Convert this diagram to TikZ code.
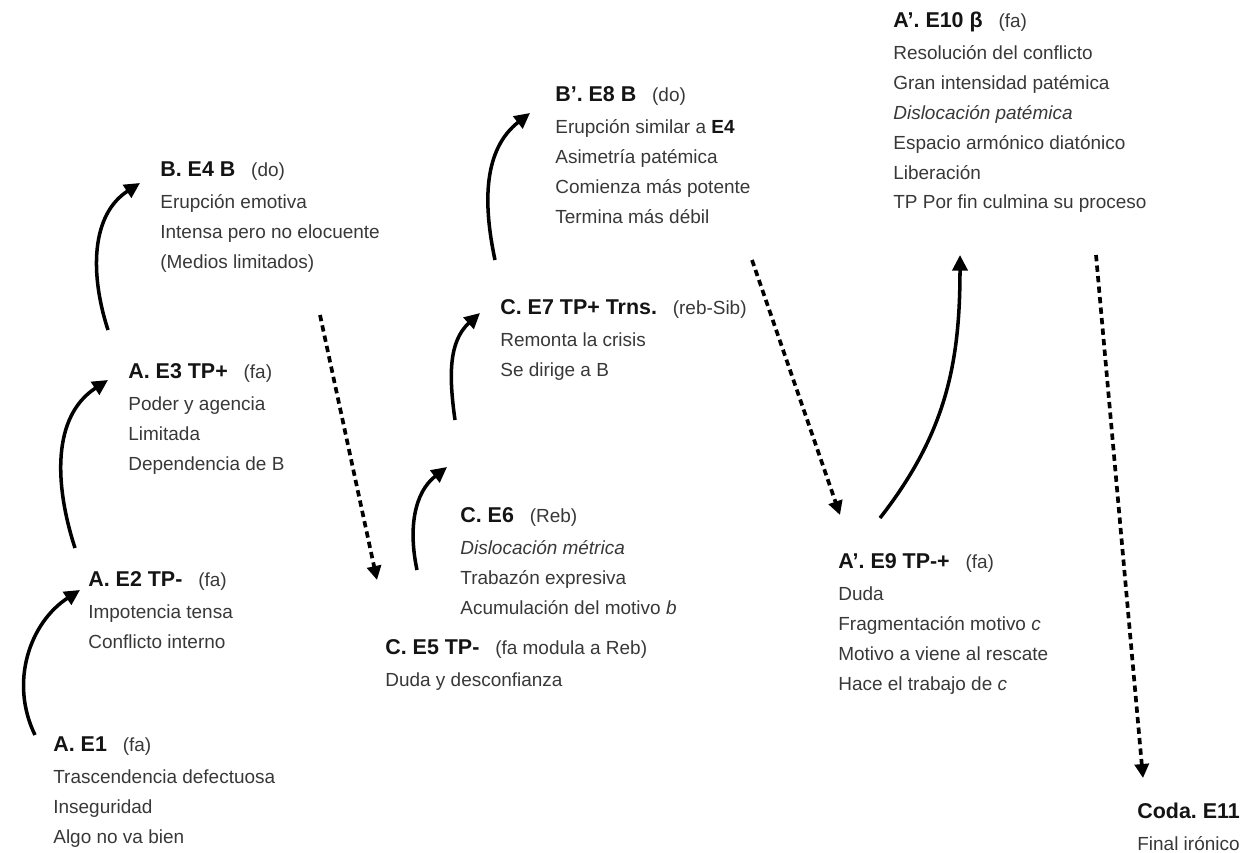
\documentclass[tikz,border=0pt]{standalone}
\usepackage{fontspec}
\setmainfont{Liberation Sans}
\usepackage{xcolor}
\usetikzlibrary{arrows.meta}
\definecolor{bodygray}{HTML}{383838}
\definecolor{titleblack}{HTML}{141414}
\newcommand{\titlefont}{\color{titleblack}\fontsize{12.2}{17}\selectfont\bfseries}
\newcommand{\stitle}[2]{\rule{0pt}{10pt}{\titlefont #1}\hspace{9pt}#2}

\tikzset{
  stage/.style={anchor=north west,inner sep=0pt,align=left,text=bodygray,font=\fontsize{10.8}{17}\selectfont},
  rise/.style={-{Triangle[length=3.1mm,width=3mm]},line width=2pt,black},
  fall/.style={-{Triangle[length=2.8mm,width=2.8mm]},line width=2.1pt,black,dash pattern=on 3.6pt off 2.4pt},
}

\begin{document}
\begin{tikzpicture}[x=0.02cm,y=0.02cm]
\useasboundingbox (0,0) rectangle (1250,-852);

\node[stage] (e1) at (53,-734) {\stitle{A. E1}{(fa)}\\[1pt]
  Trascendencia defectuosa\\ Inseguridad\\ Algo no va bien};
\node[stage] (e2) at (88,-569) {\stitle{A. E2 TP-}{(fa)}\\[1pt]
  Impotencia tensa\\ Conflicto interno};
\node[stage] (e3) at (128,-361) {\stitle{A. E3 TP+}{(fa)}\\[1pt]
  Poder y agencia\\ Limitada\\ Dependencia de B};
\node[stage] (e4) at (160,-159) {\stitle{B. E4 B}{(do)}\\[1pt]
  Erupción emotiva\\ Intensa pero no elocuente\\ (Medios limitados)};
\node[stage] (e5) at (385,-637) {\stitle{C. E5 TP-}{(fa modula a Reb)}\\[1pt]
  Duda y desconfianza};
\node[stage] (e6) at (460,-505) {\stitle{C. E6}{(Reb)}\\[1pt]
  \textit{Dislocación métrica}\\ Trabazón expresiva\\ Acumulación del motivo \textit{b}};
\node[stage] (e7) at (500,-297) {\stitle{C. E7 TP+ Trns.}{(reb-Sib)}\\[1pt]
  Remonta la crisis\\ Se dirige a B};
\node[stage] (e8) at (555,-84) {\stitle{B’. E8 B}{(do)}\\[1pt]
  Erupción similar a {\color{titleblack}\bfseries E4}\\ Asimetría patémica\\ Comienza más potente\\ Termina más débil};
\node[stage] (e9) at (838,-551) {\stitle{A’. E9 TP-+}{(fa)}\\[1pt]
  Duda\\ Fragmentación motivo \textit{c}\\ Motivo a viene al rescate\\ Hace el trabajo de \textit{c}};
\node[stage] (e10) at (893,-10) {\stitle{A’. E10 β}{(fa)}\\[1pt]
  Resolución del conflicto\\ Gran intensidad patémica\\ \textit{Dislocación patémica}\\ Espacio armónico diatónico\\ Liberación\\ TP Por fin culmina su proceso};
\node[stage] (e11) at (1137,-801) {\rule{0pt}{10pt}{\titlefont Coda.\ E11}\\[1pt]
  Final irónico};

\draw[rise] ([shift={(-18,-1)}]e1.north west) to[out=116,in=213] ([shift={(-8,-21)}]e2.north west);
\draw[rise] ([shift={(-13,21)}]e2.north west) to[out=108,in=213] ([shift={(-20,-19)}]e3.north west);
\draw[rise] ([shift={(-20,31)}]e3.north west) to[out=108,in=213] ([shift={(-20,-24)}]e4.north west);
\draw[fall] ([shift={(160,-156)}]e4.north west) -- ([shift={(-8,57)}]e5.north west);
\draw[rise] ([shift={(32,67)}]e5.north west) to[out=102,in=218] ([shift={(-13,38)}]e6.north west);
\draw[rise] ([shift={(-5,85)}]e6.north west) to[out=98,in=222] ([shift={(-20,-16)}]e7.north west);
\draw[rise] ([shift={(-5,37)}]e7.north west) to[out=102,in=218] ([shift={(-25,-29)}]e8.north west);
\draw[fall] ([shift={(197,-176)}]e8.north west) -- ([shift={(2,36)}]e9.north west);
\draw[rise] ([shift={(42,33)}]e9.north west) to[out=52,in=-90] ([shift={(67,-245)}]e10.north west);
\draw[fall] ([shift={(203,-245)}]e10.north west) -- ([shift={(6,23)}]e11.north west);
\end{tikzpicture}
\end{document}
